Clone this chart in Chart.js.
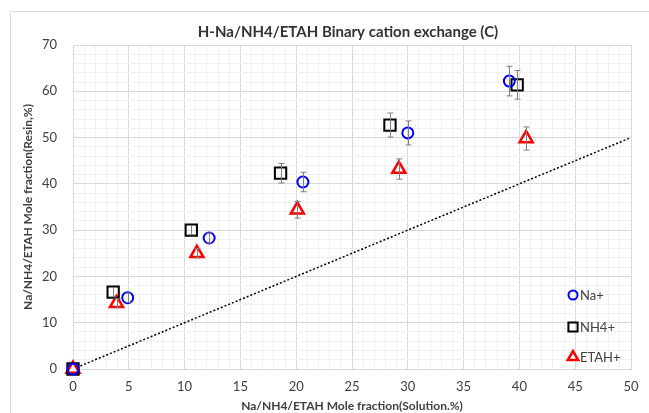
<!DOCTYPE html>
<html>
<head>
<meta charset="utf-8">
<script src="https://cdn.jsdelivr.net/npm/chart.js@4.4.1/dist/chart.umd.min.js"></script>
<style>
  body { margin: 0; background: #fff; }
  canvas { display: block; }
</style>
</head>
<body>
<canvas id="chart" width="649" height="413"></canvas>
<script>
// valeurs
const naX = [0, 4.9, 12.2, 20.6, 30.0, 39.1];
const naY = [0, 15.4, 28.3, 40.4, 51.0, 62.2];
const naErr = [0, 1.0, 1.1, 2.1, 2.6, 3.2];

const nh4X = [0, 3.6, 10.6, 18.6, 28.4, 39.8];
const nh4Y = [0, 16.6, 30.0, 42.3, 52.7, 61.4];
const nh4Err = [0, 1.0, 1.0, 2.1, 2.6, 3.1];

const etahX = [0, 3.9, 11.1, 20.1, 29.2, 40.6];
const etahY = [0, 14.2, 25.0, 34.4, 43.2, 49.8];
const etahErr = [0, 1.0, 1.0, 1.8, 2.2, 2.5];

const lineX = [0, 50];
const lineY = [0, 50];

const TITLE = "H-Na/NH4/ETAH Binary cation exchange (C)";
const FONT = "Lato, 'Open Sans', sans-serif";

function toPoints(xs, ys) {
  return xs.map((x, i) => ({ x: x, y: ys[i] }));
}

// barres d'erreur dessinées par-dessus les marqueurs
const errorBars = {
  id: "errorBars",
  afterDatasetsDraw(chart) {
    const ctx = chart.ctx;
    const xs = chart.scales.x, ys = chart.scales.y;
    ctx.save();
    ctx.strokeStyle = "#7f7f7f";
    ctx.lineWidth = 1;
    chart.data.datasets.forEach(ds => {
      if (!ds.errors) return;
      ds.data.forEach((p, i) => {
        const e = ds.errors[i];
        if (!e) return;
        const px = Math.round(xs.getPixelForValue(p.x)) + 0.5;
        const top = ys.getPixelForValue(p.y + e);
        const bot = ys.getPixelForValue(p.y - e);
        ctx.beginPath();
        ctx.moveTo(px, top); ctx.lineTo(px, bot);
        ctx.moveTo(px - 3, top); ctx.lineTo(px + 3, top);
        ctx.moveTo(px - 3, bot); ctx.lineTo(px + 3, bot);
        ctx.stroke();
      });
    });
    ctx.restore();
  }
};

// légende à l'intérieur de la zone du graphique + titre centré sur la zone
const innerLegend = {
  id: "innerLegend",
  afterDraw(chart) {
    const ctx = chart.ctx;
    const area = chart.chartArea;
    const items = chart.data.datasets.filter(ds => ds.legendY);
    ctx.save();
    items.forEach(ds => {
      ctx.strokeStyle = ds.borderColor;
      ctx.fillStyle = ds.backgroundColor;
      ctx.lineWidth = ds.borderWidth;
      Chart.helpers.drawPoint(ctx, {
        pointStyle: ds.pointStyle,
        radius: ds.legendRadius,
        borderWidth: ds.borderWidth
      }, 573, ds.legendY);
      ctx.fillStyle = "#404040";
      ctx.font = "13px " + FONT;
      ctx.textBaseline = "middle";
      ctx.textAlign = "left";
      ctx.fillText(ds.label, 580, ds.legendY + 1);
    });
    ctx.fillStyle = "#333333";
    ctx.font = "bold 15px " + FONT;
    ctx.textAlign = "center";
    ctx.textBaseline = "middle";
    ctx.fillText(TITLE, (area.left + area.right) / 2 - 4, 32);
    ctx.restore();
  }
};

// cadre gris du graphique
const frame = {
  id: "frame",
  beforeDraw(chart) {
    const ctx = chart.ctx;
    ctx.save();
    ctx.strokeStyle = "#d9d9d9";
    ctx.lineWidth = 1;
    ctx.beginPath();
    ctx.moveTo(10.5, 420);
    ctx.lineTo(10.5, 11.5);
    ctx.lineTo(660, 11.5);
    ctx.stroke();
    ctx.restore();
  }
};

const ctx = document.getElementById("chart").getContext("2d");

new Chart(ctx, {
  type: "scatter",
  data: {
    datasets: [
      {
        label: "Na+",
        data: toPoints(naX, naY),
        errors: naErr,
        clip: false,
        pointStyle: "circle",
        pointRadius: 5.5,
        borderColor: "#0000ff",
        backgroundColor: "rgba(0,0,0,0)",
        borderWidth: 2,
        legendY: 295,
        legendRadius: 4.5
      },
      {
        label: "NH4+",
        data: toPoints(nh4X, nh4Y),
        errors: nh4Err,
        clip: false,
        pointStyle: "rect",
        pointRadius: 8,
        borderColor: "#000000",
        backgroundColor: "rgba(0,0,0,0)",
        borderWidth: 2,
        legendY: 327,
        legendRadius: 6.5
      },
      {
        label: "ETAH+",
        data: toPoints(etahX, etahY),
        errors: etahErr,
        clip: false,
        pointStyle: "triangle",
        pointRadius: 7.5,
        borderColor: "#ff0000",
        backgroundColor: "#ffffff",
        borderWidth: 2.5,
        legendY: 357,
        legendRadius: 6
      },
      {
        label: "1:1",
        type: "line",
        data: toPoints(lineX, lineY),
        borderColor: "#000000",
        borderWidth: 1.5,
        borderDash: [2, 2],
        pointRadius: 0,
        fill: false,
        order: 10
      }
    ]
  },
  options: {
    responsive: false,
    animation: false,
    layout: { padding: { top: 45, right: 18, left: 0, bottom: 0 } },
    plugins: {
      legend: { display: false },
      tooltip: { enabled: false },
      title: { display: false }
    },
    scales: {
      x: {
        type: "linear",
        min: 0,
        max: 50,
        afterFit: s => { s.height = 44; },
        border: { color: "#d9d9d9" },
        grid: {
          drawTicks: false,
          color: c => (c.tick && c.tick.value % 5 === 0) ? "#d9d9d9" : "#f0f0f0"
        },
        ticks: {
          stepSize: 1,
          autoSkip: false,
          maxRotation: 0,
          padding: 10,
          color: "#404040",
          font: { family: FONT, size: 13 },
          callback: v => (v % 5 === 0 ? v : "")
        },
        title: {
          display: true,
          text: "Na/NH4/ETAH Mole fraction(Solution.%)",
          color: "#404040",
          font: { family: FONT, size: 12, weight: "bold" },
          padding: { top: 0, bottom: 0 }
        }
      },
      y: {
        type: "linear",
        min: 0,
        max: 70,
        afterFit: s => { s.width = 73; },
        border: { color: "#d9d9d9" },
        grid: {
          drawTicks: false,
          color: c => (c.tick && c.tick.value % 10 === 0) ? "#d9d9d9" : "#f0f0f0"
        },
        ticks: {
          stepSize: 2,
          autoSkip: false,
          padding: 16,
          color: "#404040",
          font: { family: FONT, size: 13 },
          callback: v => (v % 10 === 0 ? v : "")
        },
        title: {
          display: true,
          text: "Na/NH4/ETAH Mole fraction(Resin,%)",
          color: "#404040",
          font: { family: FONT, size: 12, weight: "bold" },
          padding: { top: 21, bottom: 0 }
        }
      }
    }
  },
  plugins: [frame, errorBars, innerLegend]
});
</script>
</body>
</html>
